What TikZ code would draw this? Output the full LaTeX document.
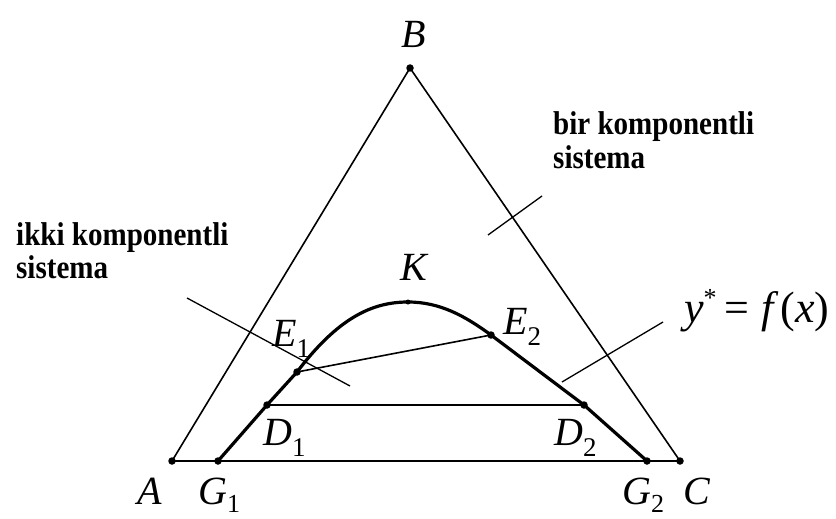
\documentclass[tikz,border=0pt]{standalone}
\usepackage{fontspec}
\setmainfont{Liberation Serif}
\newcommand{\sbs}[1]{\raisebox{-0.28em}{\upshape\fontsize{27}{27}\selectfont #1}}
\newcommand{\sbg}[1]{\raisebox{-0.2em}{\upshape\fontsize{26}{26}\selectfont #1}}
\begin{document}
\begin{tikzpicture}[x=1pt,y=-1pt,
  thinline/.style={line width=1.6pt,black},
  thickline/.style={line width=3.2pt,black,line join=round},
  ptr/.style={line width=1.3pt,black},
  dot/.style={circle,fill=black,inner sep=0pt,minimum size=7.5pt},
  lab/.style={anchor=base west,inner sep=0pt,font=\fontsize{40}{40}\selectfont\itshape},
  txt/.style={anchor=base west,inner sep=0pt,font=\fontsize{33}{33}\selectfont\bfseries}]
\useasboundingbox (0,0) rectangle (836,519);
% points
\coordinate (A) at (172,461);
\coordinate (C) at (680,461);
\coordinate (B) at (410,68);
\coordinate (G1) at (218,461);
\coordinate (G2) at (647,461);
\coordinate (D1) at (267,405);
\coordinate (D2) at (584,405);
\coordinate (E1) at (297,372);
\coordinate (E2) at (491,335);
\coordinate (K) at (408,302);
% triangle
\draw[thinline] (A) -- (B) -- (C) -- (A);
% tie lines
\draw[thinline] (D1) -- (D2);
\draw[thinline] (E1) -- (E2);
% binodal curve
\draw[thickline] (G1) -- (D1) -- (E1) .. controls (338,318) and (372,302) .. (K)
  .. controls (440,302) and (465,316) .. (E2) -- (D2) -- (G2);
% dots
\foreach \p in {A,B,C,G1,G2,D1,D2,E1,E2} \node[dot] at (\p) {};
\node[dot,minimum size=5pt] at (K) {};
% pointers
\coordinate (p1a) at (187,298); \coordinate (p1b) at (350,386);
\coordinate (p2a) at (488,235); \coordinate (p2b) at (542,196);
\coordinate (p3a) at (562,382); \coordinate (p3b) at (663,322);
\draw[ptr] (p1a) -- (p1b);
\draw[ptr] (p2a) -- (p2b);
\draw[ptr] (p3a) -- (p3b);
% labels
\node[lab] (lB) at (401,48) {B};
\node[lab] (lK) at (400,280) {K};
\node[lab] (lE1) at (272,346) {E\sbs{1}};
\node[lab] (lE2) at (503,334) {E\sbs{2}};
\node[lab] (lD1) at (263,445) {D\sbs{1}};
\node[lab] (lD2) at (554,445) {D\sbs{2}};
\node[lab] (lA) at (137,504) {A};
\node[lab] (lG1) at (198,504) {G\sbg{1}};
\node[lab] (lG2) at (622,504) {G\sbg{2}};
\node[lab] (lC) at (683,504) {C};
\node[lab,font=\fontsize{44}{44}\selectfont\itshape] (lf) at (684,322)
  {y\raisebox{0.35em}{\upshape\fontsize{26}{26}\selectfont *}\,{\upshape=}\;f\,{\upshape(}x{\upshape)}};
\node[txt] (t1a) at (553,135) {\scalebox{0.88}[1]{bir komponentli}};
\node[txt] (t1b) at (553,168) {\scalebox{0.88}[1]{sistema}};
\node[txt] (t2a) at (16,245) {\scalebox{0.88}[1]{ikki komponentli}};
\node[txt] (t2b) at (16,278) {\scalebox{0.88}[1]{sistema}};
\end{tikzpicture}
\end{document}
